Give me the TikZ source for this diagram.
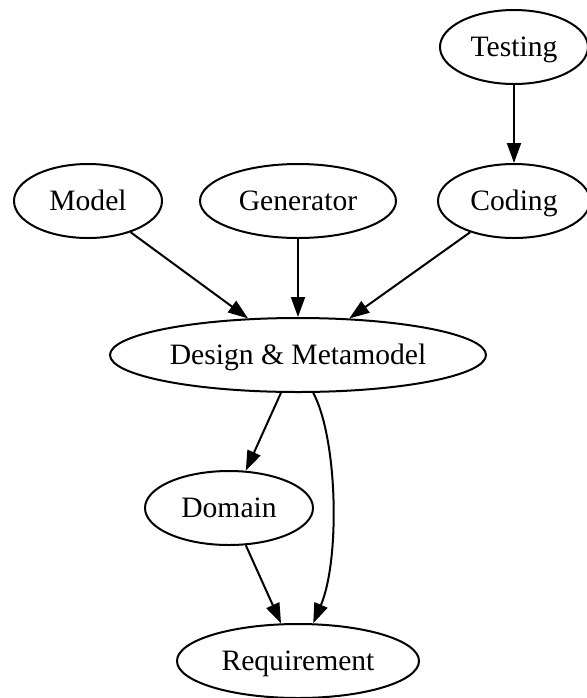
\documentclass[tikz,border=0pt]{standalone}
\usepackage{fontspec}
\setmainfont{Liberation Serif}
\usetikzlibrary{shapes.geometric,arrows.meta}
\begin{document}
\begin{tikzpicture}[x=0.5pt,y=-0.5pt,
  gv/.style={ellipse,draw,line width=1pt,inner sep=0pt,minimum height=37pt,
    text height=11pt,text depth=2pt,
    font=\fontsize{14.8}{17}\selectfont},
  edge/.style={line width=1pt,-{Triangle[length=10pt,width=7pt]}}]
\useasboundingbox (0,0) rectangle (587,698);
\node[gv,minimum width=74pt] (testing) at (514,47) {Testing};
\node[gv,minimum width=76pt] (coding) at (514,201) {Coding};
\node[gv,minimum width=74pt] (model) at (88,201) {Model};
\node[gv,minimum width=98pt] (generator) at (298,201) {Generator};
\node[gv,minimum width=188pt] (design) at (298,355) {Design \& Metamodel};
\node[gv,minimum width=84pt] (domain) at (229,508) {Domain};
\node[gv,minimum width=121pt] (req) at (298,661) {Requirement};
\draw[edge] (testing) -- (coding);
\draw[edge] (model) -- (design);
\draw[edge] (generator) -- (design);
\draw[edge] (coding) -- (design);
\draw[edge] (design) -- (domain);
\draw[edge] (domain) -- (req);
\draw[edge] (design.-68) .. controls (338,440) and (340,560) .. (req.68);
\end{tikzpicture}
\end{document}
